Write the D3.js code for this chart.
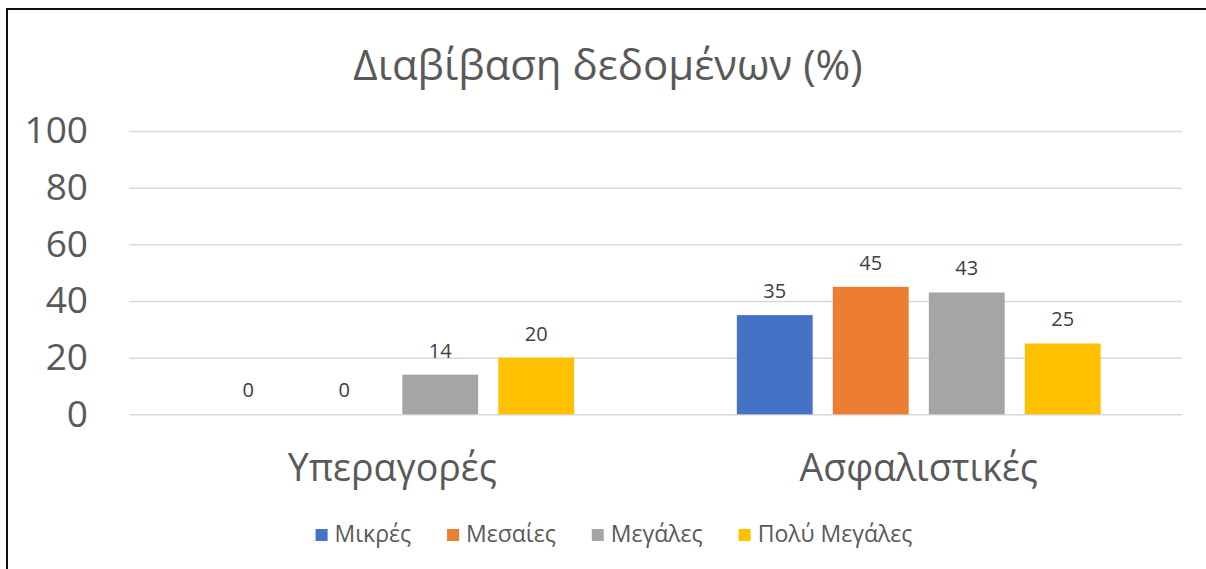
<!DOCTYPE html>
<html>
<head>
<meta charset="utf-8">
<script src="https://cdn.jsdelivr.net/npm/d3@7"></script>
<style>
  body { margin: 0; background: #fff; }
  svg { display: block; font-family: "Open Sans", "Noto Sans", sans-serif; }
</style>
</head>
<body>
<svg class="chart"></svg>
<script>
var title = "Διαβίβαση δεδομένων (%)";
var categories = ["Υπεραγορές", "Ασφαλιστικές"];
var seriesNames = ["Μικρές", "Μεσαίες", "Μεγάλες", "Πολύ Μεγάλες"];
var mikres = [0, 35];
var mesaies = [0, 45];
var megales = [14, 43];
var polyMegales = [20, 25];
var yTicks = [0, 20, 40, 60, 80, 100];

var colors = ["#4472C4", "#ED7D31", "#A5A5A5", "#FFC000"];

function show() {

    'use strict';

    var width = 1206, height = 569;
    var plot = {left: 129, right: 1182, top: 131, bottom: 414.3};

    var seriesValues = [mikres, mesaies, megales, polyMegales];
    var data = [];
    categories.forEach(function(c, i) {
        seriesNames.forEach(function(s, j) {
            data.push({cat: c, series: s, value: seriesValues[j][i]});
        });
    });

    var chart = d3.select(".chart")
        .attr("width", width)
        .attr("height", height);

    // frame (only left and top edges are visible)
    chart.append("path")
        .attr("d", "M7," + height + "V9H" + width)
        .attr("fill", "none")
        .attr("stroke", "#111")
        .attr("stroke-width", 2);

    // scales
    var scaleX = d3.scaleBand()
        .domain(categories)
        .range([plot.left, plot.right]);

    var bw = scaleX.bandwidth();
    var scaleX1 = d3.scaleBand()
        .domain(seriesNames)
        .range([bw / 2 - 192, bw / 2 + 192])
        .paddingInner(0.21)
        .paddingOuter(0.105);

    var scaleY = d3.scaleLinear().domain([0, 100]).range([plot.bottom, plot.top]);
    var scaleC = d3.scaleOrdinal().domain(seriesNames).range(colors);

    // gridlines
    var grid = chart.append("g")
        .attr("transform", "translate(" + plot.left + ",0)")
        .call(d3.axisLeft(scaleY).tickValues(yTicks)
            .tickSize(-(plot.right - plot.left)).tickFormat(""));
    grid.select(".domain").remove();
    grid.selectAll(".tick line")
        .attr("stroke", "#d9d9d9")
        .attr("stroke-width", 1.5);

    // left axis labels
    var leftAxis = chart.append("g")
        .attr("transform", "translate(" + plot.left + ",0)")
        .call(d3.axisLeft(scaleY).tickValues(yTicks).tickSize(0).tickPadding(41));
    leftAxis.select(".domain").remove();
    leftAxis.selectAll(".tick text")
        .attr("font-family", "Open Sans")
        .attr("font-size", 37)
        .attr("fill", "#595959");

    // bars
    chart.append("g").selectAll("rect")
        .data(data)
        .enter().append("rect")
        .attr("x", function(d) { return scaleX(d.cat) + scaleX1(d.series); })
        .attr("y", function(d) { return scaleY(d.value); })
        .attr("width", scaleX1.bandwidth())
        .attr("height", function(d) { return scaleY(0) - scaleY(d.value); })
        .attr("fill", function(d) { return scaleC(d.series); });

    // value labels
    chart.append("g").selectAll("text")
        .data(data)
        .enter().append("text")
        .attr("x", function(d) { return scaleX(d.cat) + scaleX1(d.series) + scaleX1.bandwidth() / 2; })
        .attr("y", function(d) { return scaleY(d.value) - 17; })
        .attr("text-anchor", "middle")
        .attr("font-size", 20)
        .attr("fill", "#404040")
        .text(function(d) { return d.value; });

    // category labels
    chart.append("g").selectAll("text")
        .data(categories)
        .enter().append("text")
        .attr("x", function(d) { return scaleX(d) + bw / 2; })
        .attr("y", 481)
        .attr("text-anchor", "middle")
        .attr("font-size", 37.5)
        .attr("fill", "#595959")
        .text(function(d) { return d; });

    // title
    chart.append("text")
        .attr("x", 608)
        .attr("y", 80)
        .attr("text-anchor", "middle")
        .attr("font-size", 42)
        .attr("fill", "#595959")
        .text(title);

    // legend
    var legend = chart.append("g");
    var items = legend.selectAll("g")
        .data(seriesNames)
        .enter().append("g");
    items.append("rect")
        .attr("width", 12)
        .attr("height", 12)
        .attr("y", 529)
        .attr("fill", function(d) { return scaleC(d); });
    items.append("text")
        .attr("x", 19)
        .attr("y", 542)
        .attr("font-size", 23)
        .attr("fill", "#595959")
        .text(function(d) { return d; });

    var xPos = 0;
    items.each(function() {
        var w = d3.select(this).select("text").node().getComputedTextLength();
        d3.select(this).attr("transform", "translate(" + xPos + ",0)");
        xPos += 19 + w + 36;
    });
    var total = xPos - 36;
    legend.attr("transform", "translate(" + (614 - total / 2) + ",0)");
}

show();
</script>
</body>
</html>
